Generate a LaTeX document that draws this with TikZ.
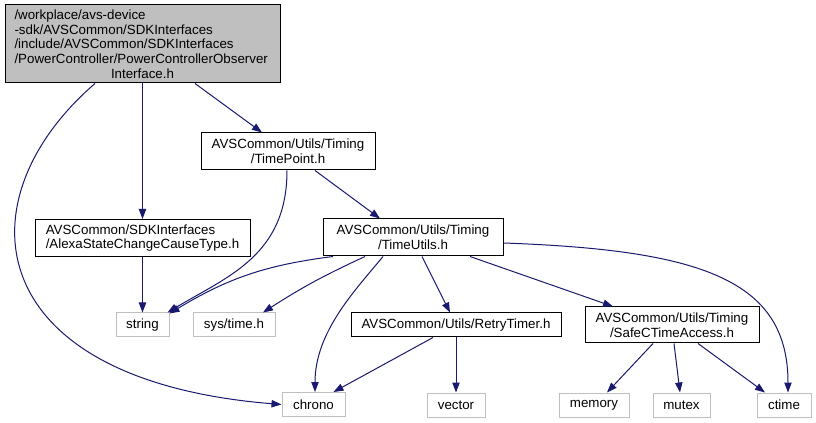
\documentclass[tikz,border=0pt]{standalone}
\usepackage{fontspec}
\setmainfont{Liberation Sans}
\usetikzlibrary{positioning,arrows.meta,calc}

\definecolor{edgeblue}{RGB}{25,25,112}
\definecolor{boxgray}{RGB}{191,191,191}

\begin{document}
\begin{tikzpicture}[
  x=0.75pt, y=-0.75pt,
  font=\fontsize{10}{11}\selectfont,
  hfile/.style={rectangle, draw=black, fill=white, line width=0.75pt, inner sep=2pt},
  sysfile/.style={rectangle, draw=boxgray, fill=white, line width=0.75pt, inner sep=2pt, minimum height=18pt},
  rootfile/.style={rectangle, draw=black, fill=boxgray, line width=0.75pt, inner sep=2pt},
  dep/.style={draw=edgeblue, line width=0.75pt, -{Triangle[length=7.5pt,width=5.5pt]}}
]
\useasboundingbox (0,0) rectangle (816,423);

% header files
\node[rootfile, minimum width=206.25pt, minimum height=58.5pt, text width=192pt, align=left] (root) at (142.5,44)
  {/workplace/avs-device\\-sdk/AVSCommon/SDKInterfaces\\/include/AVSCommon/SDKInterfaces\\/PowerController/PowerControllerObserver\\\hspace*{\fill}Interface.h\hspace*{\fill}\mbox{}};
\node[hfile, minimum width=130.5pt, minimum height=27.75pt, align=center] (tp) at (288,151.5) {AVSCommon/Utils/Timing\\/TimePoint.h};
\node[hfile, minimum width=135pt, minimum height=27.75pt, align=center] (tu) at (413,237.5) {AVSCommon/Utils/Timing\\/TimeUtils.h};
\node[hfile, minimum width=161.25pt, minimum height=27.75pt, align=left] (ascct) at (142.5,238) {AVSCommon/SDKInterfaces\\/AlexaStateChangeCauseType.h};
\node[hfile, minimum width=157.5pt, minimum height=18pt] (rt) at (456,325) {AVSCommon/Utils/RetryTimer.h};
\node[hfile, minimum width=130.5pt, minimum height=27pt, align=center] (safec) at (672,325) {AVSCommon/Utils/Timing\\/SafeCTimeAccess.h};

% system headers
\node[sysfile, minimum width=39.75pt] (string) at (142.5,325) {string};
\node[sysfile, minimum width=61.5pt] (systime) at (234,325) {sys/time.h};
\node[sysfile, minimum width=47.25pt] (chrono) at (313.5,404.5) {chrono};
\node[sysfile, minimum width=43.5pt] (vector) at (456,405) {vector};
\node[sysfile, minimum width=52.5pt] (memory) at (594,405) {memory};
\node[sysfile, minimum width=42.75pt] (mutex) at (681.5,405) {mutex};
\node[sysfile, minimum width=40.5pt] (ctime) at (784,405) {ctime};

% includes
\draw[dep] ($(root.south)+(-47.5,0)$) .. controls (-40,200) and (-20,380) .. (chrono.west);
\draw[dep] (root.south) -- (ascct.north);
\draw[dep] ($(root.south)+(52.5,0)$) -- ($(tp.north)+(-26,0)$);
\draw[dep] ($(tp.south)+(-1,0)$) .. controls +(0,85) and +(60,-36) .. ($(string.north east)+(-2,0)$);
\draw[dep] ($(tp.south)+(27,0)$) -- ($(tu.north)+(-33,0)$);
\draw[dep] (ascct.south) -- (string.north);
\draw[dep] ($(tu.south)+(-80,0)$) to[bend right=12] ($(string.north east)+(0,1)$);
\draw[dep] ($(tu.south)+(-48,0)$) to[bend right=4] ($(systime.north)+(29,0)$);
\draw[dep] ($(tu.south)+(-30,0)$) .. controls +(-28,34) and +(0,-60) .. ($(chrono.north)+(1.5,0)$);
\draw[dep] ($(tu.south)+(9,0)$) -- ($(rt.north)+(-6,0)$);
\draw[dep] ($(tu.south)+(57,0)$) -- ($(safec.north)+(-59,0)$);
\draw[dep] ($(tu.east)+(0,5.5)$) .. controls +(197,7) and +(0,-113) .. ($(ctime.north)+(4,0)$);
\draw[dep] ($(rt.south)+(-23,0)$) -- ($(chrono.north east)+(-12,0)$);
\draw[dep] (rt.south) -- (vector.north);
\draw[dep] ($(safec.south)+(-19,0)$) -- ($(memory.north)+(13,0)$);
\draw[dep] ($(safec.south)+(2,0)$) -- ($(mutex.north)+(-1.5,0)$);
\draw[dep] ($(safec.south)+(26,0)$) -- ($(ctime.north)+(-19,0)$);
\end{tikzpicture}
\end{document}
